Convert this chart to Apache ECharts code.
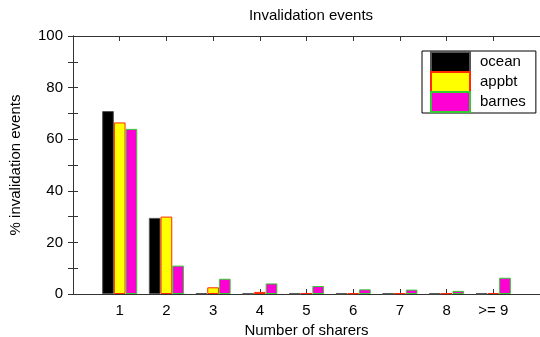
<!DOCTYPE html>
<html>
<head>
<meta charset="utf-8">
<script src="https://cdn.jsdelivr.net/npm/echarts@6/dist/echarts.min.js"></script>
<style>html,body{margin:0;padding:0;background:#fff}#c{width:540px;height:337px}</style>
</head>
<body>
<div id="c"></div>
<script>
const categories = ['1', '2', '3', '4', '5', '6', '7', '8', '>= 9'];
const ocean = [70.9, 29.5, 0.3, 0.2, 0.2, 0.2, 0.2, 0.2, 0.2];
const appbt = [66.5, 30.0, 2.6, 0.8, 0.4, 0.3, 0.3, 0.3, 0.4];
const barnes = [64.0, 11.0, 5.9, 4.1, 3.1, 1.8, 1.7, 1.2, 6.3];
const seriesNames = ['ocean', 'appbt', 'barnes'];
const yTicks = [0, 20, 40, 60, 80, 100];

const FONT = 'Liberation Sans, Arial, sans-serif';
const FS = 15;
const toPts = arr => arr.map((v, i) => [i + 1, v]);
const chart = echarts.init(document.getElementById('c'), null, {renderer: 'canvas'});
const axisLineStyle = {color: '#333', width: 1};
const xLabel = v => (v >= 1 && v <= categories.length && Number.isInteger(v)) ? categories[v - 1] : '';

chart.setOption({
  animation: false,
  backgroundColor: '#fff',
  title: {
    text: 'Invalidation events', left: 306, top: 3, textAlign: 'center',
    textStyle: {fontFamily: FONT, fontSize: FS, fontWeight: 'normal', color: '#000'}
  },
  grid: {left: 73, top: 36, width: 467, height: 258, containLabel: false, outerBoundsMode: 'none'},
  legend: {
    orient: 'vertical', left: 422, top: 51,
    data: seriesNames,
    icon: 'rect', itemWidth: 39, itemHeight: 20, itemGap: -2,
    padding: [0, 10, 0, 8],
    backgroundColor: '#fff', borderColor: '#000', borderWidth: 1,
    textStyle: {fontFamily: FONT, fontSize: FS, color: '#000', padding: [0, 0, 0, 5]}
  },
  xAxis: [{
    type: 'value', min: 0, max: 10, interval: 1, position: 'bottom',
    name: 'Number of sharers', nameLocation: 'middle', nameGap: 23,
    nameTextStyle: {fontFamily: FONT, fontSize: FS, color: '#000'},
    axisLine: {show: true, onZero: false, lineStyle: axisLineStyle},
    axisTick: {show: true, inside: true, length: 5, lineStyle: axisLineStyle},
    axisLabel: {formatter: xLabel, fontFamily: FONT, fontSize: FS, color: '#000', margin: 9,
      showMinLabel: true, showMaxLabel: true},
    splitLine: {show: false}
  }, {
    type: 'value', min: 0, max: 10, interval: 1, position: 'top',
    axisLine: {show: true, onZero: false, lineStyle: axisLineStyle},
    axisTick: {show: true, inside: true, length: 5, lineStyle: axisLineStyle},
    axisLabel: {show: false},
    splitLine: {show: false}
  }],
  yAxis: [{
    type: 'value', min: yTicks[0], max: yTicks[yTicks.length - 1], interval: 20,
    name: '% invalidation events', nameLocation: 'middle', nameGap: 50,
    nameTextStyle: {fontFamily: FONT, fontSize: FS, color: '#000'},
    axisLine: {show: true, lineStyle: axisLineStyle},
    axisTick: {show: true, inside: true, length: 5, lineStyle: axisLineStyle},
    minorTick: {show: true, splitNumber: 2, length: 5, lineStyle: axisLineStyle},
    axisLabel: {fontFamily: FONT, fontSize: FS, color: '#000', margin: 10},
    splitLine: {show: false}
  }, {
    type: 'value', min: yTicks[0], max: yTicks[yTicks.length - 1], interval: 20, position: 'right',
    axisLine: {show: true, lineStyle: axisLineStyle},
    axisTick: {show: true, inside: true, length: 5, lineStyle: axisLineStyle},
    minorTick: {show: true, splitNumber: 2, length: 5, lineStyle: axisLineStyle},
    axisLabel: {show: false},
    splitLine: {show: false}
  }],
  series: [{
    name: 'ocean', type: 'bar', data: toPts(ocean), barWidth: 11.7, barGap: '0%',
    itemStyle: {color: '#000', borderColor: '#555', borderWidth: 1}
  }, {
    name: 'appbt', type: 'bar', data: toPts(appbt), barWidth: 11.7, barGap: '0%',
    itemStyle: {color: '#ffff00', borderColor: '#ff2a00', borderWidth: 1}
  }, {
    name: 'barnes', type: 'bar', data: toPts(barnes), barWidth: 11.7, barGap: '0%',
    itemStyle: {color: '#ff00d4', borderColor: '#33cc33', borderWidth: 1}
  }]
});
</script>
</body>
</html>
